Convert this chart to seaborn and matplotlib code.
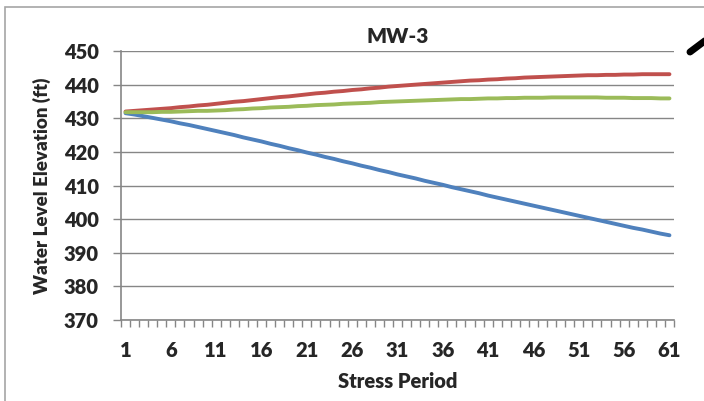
## ==========================================
## MW-3 Water Level Chart
## ==========================================

import pandas as pd
import numpy as np
import matplotlib.pyplot as plt
import seaborn as sns
from matplotlib.patches import Rectangle
from matplotlib.lines import Line2D

## ==========================================
## Data
## ==========================================

stress_period = list(range(1, 62))

blue_values = [
    431.5, 431.1, 430.6, 430.1, 429.6, 429.1, 428.5, 428.0, 427.4, 426.8,
    426.2, 425.6, 425.0, 424.3, 423.7, 423.1, 422.4, 421.8, 421.1, 420.5,
    419.8, 419.2, 418.5, 417.9, 417.2, 416.6, 415.9, 415.3, 414.6, 414.0,
    413.3, 412.7, 412.1, 411.4, 410.8, 410.2, 409.5, 408.9, 408.3, 407.7,
    407.0, 406.4, 405.8, 405.2, 404.6, 404.0, 403.4, 402.8, 402.2, 401.6,
    401.0, 400.4, 399.8, 399.2, 398.6, 398.0, 397.4, 396.9, 396.3, 395.7,
    395.2
]

red_values = [
    432.0, 432.2, 432.4, 432.6, 432.8, 433.0, 433.3, 433.5, 433.8, 434.0,
    434.3, 434.6, 434.9, 435.1, 435.4, 435.7, 436.0, 436.3, 436.5, 436.8,
    437.1, 437.4, 437.6, 437.9, 438.1, 438.4, 438.6, 438.9, 439.1, 439.4,
    439.6, 439.8, 440.0, 440.2, 440.4, 440.6, 440.8, 441.0, 441.2, 441.3,
    441.5, 441.6, 441.8, 441.9, 442.1, 442.2, 442.3, 442.4, 442.5, 442.6,
    442.7, 442.8, 442.8, 442.9, 442.9, 443.0, 443.0, 443.1, 443.1, 443.1,
    443.1
]

green_values = [
    431.8, 431.8, 431.8, 431.8, 431.9, 431.9, 432.0, 432.1, 432.2, 432.2,
    432.3, 432.4, 432.6, 432.7, 432.9, 433.0, 433.2, 433.3, 433.4, 433.6,
    433.7, 433.9, 434.0, 434.1, 434.3, 434.4, 434.5, 434.6, 434.8, 434.9,
    435.0, 435.1, 435.2, 435.3, 435.4, 435.5, 435.6, 435.7, 435.7, 435.8,
    435.9, 435.9, 436.0, 436.0, 436.1, 436.1, 436.1, 436.2, 436.2, 436.2,
    436.2, 436.2, 436.2, 436.1, 436.1, 436.1, 436.0, 436.0, 436.0, 435.9,
    435.9
]

series_names = ["Blue", "Red", "Green"]
series_colors = ["#4F81BD", "#C0504D", "#9BBB59"]

y_ticks = [370, 380, 390, 400, 410, 420, 430, 440, 450]
x_labels = [1, 6, 11, 16, 21, 26, 31, 36, 41, 46, 51, 56, 61]

## ==========================================
## Long Format Table
## ==========================================

df = pd.concat([
    pd.DataFrame({"Stress Period": stress_period, "Level": blue_values, "Series": "Blue"}),
    pd.DataFrame({"Stress Period": stress_period, "Level": red_values, "Series": "Red"}),
    pd.DataFrame({"Stress Period": stress_period, "Level": green_values, "Series": "Green"}),
], axis=0)

## ==========================================
## Style
## ==========================================

sns.set_style("white")
plt.rcParams["font.family"] = ["Lato", "DejaVu Sans"]

fig = plt.figure(figsize=(7.04, 4.01), dpi=100)
ax = fig.add_axes([121 / 704, 1 - 320 / 401, 553 / 704, 269 / 401])

## ==========================================
## Lines
## ==========================================

sns.lineplot(
    data=df,
    x="Stress Period",
    y="Level",
    hue="Series",
    hue_order=series_names,
    palette=series_colors,
    linewidth=2.8,
    legend=False,
    ax=ax
)

## ==========================================
## Axes
## ==========================================

ax.set_xlim(0.5, 61.5)
ax.set_ylim(370, 450)

ax.set_yticks(y_ticks)
ax.set_yticklabels([str(v) for v in y_ticks], fontsize=14.5, fontweight="heavy")

ax.set_xticks(x_labels)
ax.set_xticklabels([str(v) for v in x_labels], fontsize=14.5, fontweight="heavy")
ax.set_xticks(np.arange(0.5, 62, 1), minor=True)

ax.tick_params(axis="x", which="major", bottom=True, length=0, pad=15)
ax.tick_params(axis="x", which="minor", bottom=True, length=5,
               color="#868686", width=1, direction="out")
ax.tick_params(axis="y", which="major", left=True, length=6,
               color="#868686", width=1, direction="out", pad=10)

ax.grid(axis="y", color="#868686", linewidth=1)
ax.set_axisbelow(True)

for side in ["top", "right"]:
    ax.spines[side].set_visible(False)
for side in ["left", "bottom"]:
    ax.spines[side].set_color("#868686")
    ax.spines[side].set_linewidth(1.2)

ax.set_xlabel("Stress Period", fontsize=14.5, fontweight="heavy", labelpad=9)
ax.set_ylabel("Water Level Elevation (ft)", fontsize=13.5, fontweight="heavy", labelpad=9)
ax.set_title("MW-3", fontsize=15, fontweight="heavy", pad=6)

## ==========================================
## Chart Border and Arrow Stroke
## ==========================================

fig.patches.append(Rectangle(
    (5 / 704, -0.1), 1.2, 1 - 7 / 401 + 0.1,
    transform=fig.transFigure, fill=False,
    edgecolor="#A6A6A6", linewidth=1.2
))

fig.lines.append(Line2D(
    [690 / 704, 706 / 704], [1 - 52 / 401, 1 - 40 / 401],
    transform=fig.transFigure, color="black", linewidth=5
))

plt.savefig("out.png", dpi=100)
plt.close()
